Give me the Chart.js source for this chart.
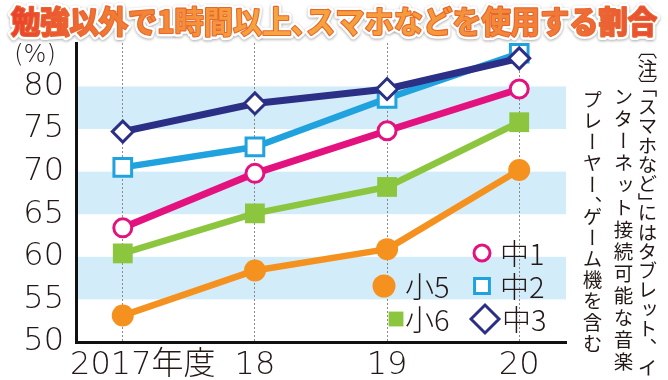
<!DOCTYPE html>
<html><head><meta charset="utf-8">
<script src="https://cdn.jsdelivr.net/npm/chart.js@4"></script>
<style>
html,body{margin:0;padding:0;background:#fff;}
#wrap{position:relative;width:668px;height:380px;overflow:hidden;background:#fff;}
#c{position:absolute;left:0;top:0;}
.note{position:absolute;writing-mode:vertical-rl;font-family:'Noto Sans CJK JP';font-size:19.5px;line-height:24px;color:#231815;white-space:nowrap;}
.br{font-feature-settings:"vpal" 1;}
</style></head><body>
<div id="wrap"><canvas id="c" width="668" height="380"></canvas>
<div class="note" style="left:635px;top:49px;letter-spacing:-0.2px;"><span class="br">〔</span>注<span class="br">〕「</span>スマホなど<span class="br">」</span>にはタブレット、イ</div>
<div class="note" style="left:611px;top:87px;letter-spacing:2.6px;">ンターネット接続可能な音楽</div>
<div class="note" style="left:580px;top:90px;letter-spacing:1.6px;">プレーヤー<span class="br">、</span>ゲーム機を含む</div>
</div>
<script>
const titleText = '勉強以外で1時間以上､スマホなどを使用する割合';
const unitLabel = '(%)';
const years = ['\u2002\u2002\u20052017年度', '18', '19', '20'];
const yTicks = [50, 55, 60, 65, 70, 75, 80];
const bandRanges = [[55, 60], [65, 70], [75, 80]];
const seriesNames = ['中3', '中2', '中1', '小6', '小5'];
const chu3 = [74.7, 78.0, 79.7, 83.3];
const chu2 = [70.5, 72.9, 78.6, 83.9];
const chu1 = [63.4, 69.8, 74.8, 79.7];
const sho6 = [60.4, 65.1, 68.2, 75.8];
const sho5 = [53.1, 58.4, 60.9, 70.2];

const pts = arr => arr.map((v, i) => ({x: i, y: v}));
const NAVY = '#2b2f86', CYAN = '#1fa2dd', MAG = '#e3127f', GREEN = '#8cc63f', ORANGE = '#f5911e';
const NUMFONT = "'DejaVu Sans', 'Noto Sans CJK JP', sans-serif";

const datasets = [
  {label: seriesNames[0], data: pts(chu3), borderColor: NAVY, borderWidth: 7, pointStyle: 'rectRot', pointRadius: 10.5, pointBorderWidth: 3, pointBorderColor: NAVY, pointBackgroundColor: '#fff'},
  {label: seriesNames[1], data: pts(chu2), borderColor: CYAN, borderWidth: 6.5, pointStyle: 'rect', pointRadius: 12.5, pointBorderWidth: 3, pointBorderColor: CYAN, pointBackgroundColor: '#fff'},
  {label: seriesNames[2], data: pts(chu1), borderColor: MAG, borderWidth: 7, pointStyle: 'circle', pointRadius: 9, pointBorderWidth: 3, pointBorderColor: MAG, pointBackgroundColor: '#fff'},
  {label: seriesNames[3], data: pts(sho6), borderColor: GREEN, borderWidth: 6.5, pointStyle: 'rect', pointRadius: 14, pointBorderWidth: 0, pointBorderColor: GREEN, pointBackgroundColor: GREEN},
  {label: seriesNames[4], data: pts(sho5), borderColor: ORANGE, borderWidth: 6.5, pointStyle: 'circle', pointRadius: 11, pointBorderWidth: 0, pointBorderColor: ORANGE, pointBackgroundColor: ORANGE}
];

const legendLayout = [
  {ds: 2, mx: 482, my: 253, r: 8, tx: 500},
  {ds: 4, mx: 384, my: 286, r: 11.5, tx: 405},
  {ds: 1, mx: 482, my: 286, r: 10.5, tx: 500},
  {ds: 3, mx: 396, my: 319, r: 10.5, tx: 405},
  {ds: 0, mx: 485, my: 319, r: 14, tx: 502}
];

const decor = {
  id: 'decor',
  beforeDraw(chart) {
    const {ctx, chartArea: a, scales: {y}} = chart;
    ctx.save();
    ctx.fillStyle = '#d3ecf9';
    bandRanges.forEach(([lo, hi]) => {
      const t = y.getPixelForValue(hi), b = y.getPixelForValue(lo);
      ctx.fillRect(a.left, t, a.right - a.left, b - t);
    });
    ctx.restore();
  },
  afterDraw(chart) {
    const {ctx} = chart;
    ctx.save();
    ctx.fillStyle = '#231815';
    ctx.font = "200 24px " + NUMFONT;
    ctx.textAlign = 'center';
    ctx.textBaseline = 'middle';
    ctx.fillText(unitLabel, 35, 56);
    ctx.restore();
    legendLayout.forEach(it => {
      const ds = chart.data.datasets[it.ds];
      ctx.save();
      ctx.fillStyle = ds.pointBackgroundColor;
      ctx.strokeStyle = ds.pointBorderColor;
      ctx.lineWidth = ds.pointBorderWidth;
      Chart.helpers.drawPoint(ctx, {pointStyle: ds.pointStyle, radius: it.r, rotation: 0, borderWidth: ds.pointBorderWidth}, it.mx, it.my);
      ctx.fillStyle = '#231815';
      ctx.font = "200 29px 'Noto Sans CJK JP', sans-serif";
      ctx.textAlign = 'left';
      ctx.textBaseline = 'middle';
      ctx.fillText(ds.label, it.tx, it.my + 1);
      ctx.restore();
    });
    ctx.save();
    ctx.font = "700 30px 'Noto Sans CJK JP', sans-serif";
    const w = ctx.measureText(titleText).width;
    const target = 646;
    ctx.translate(334, 21);
    ctx.scale(target / w, 1.02);
    ctx.textAlign = 'center';
    ctx.textBaseline = 'middle';
    ctx.lineJoin = 'round';
    ctx.shadowColor = 'rgba(0,0,0,0.35)';
    ctx.shadowBlur = 3;
    ctx.shadowOffsetY = 1;
    ctx.strokeStyle = '#fff';
    ctx.lineWidth = 7;
    ctx.strokeText(titleText, 0, 0);
    ctx.shadowColor = 'transparent';
    ctx.strokeStyle = '#e8662c';
    ctx.lineWidth = 2.2;
    ctx.strokeText(titleText, 0, 0);
    const g = ctx.createLinearGradient(-w / 2, 0, w / 2, 0);
    g.addColorStop(0, '#ea3f30');
    g.addColorStop(0.15, '#f07a34');
    g.addColorStop(0.4, '#f6a640');
    g.addColorStop(0.65, '#f49a3c');
    g.addColorStop(0.85, '#f07838');
    g.addColorStop(1, '#e84a32');
    ctx.fillStyle = g;
    ctx.fillText(titleText, 0, 0);
    ctx.restore();
  }
};

Chart.defaults.font.family = NUMFONT;

new Chart(document.getElementById('c'), {
  type: 'line',
  data: {datasets},
  options: {
    responsive: false,
    animation: false,
    devicePixelRatio: 1,
    layout: {padding: {left: 0, top: 43, right: 102, bottom: 0}},
    plugins: {legend: {display: false}, tooltip: {enabled: false}, title: {display: false}},
    elements: {line: {tension: 0, borderCapStyle: 'round', borderJoinStyle: 'round'}},
    scales: {
      x: {
        type: 'linear', min: -0.354, max: 3.354,
        afterBuildTicks: s => { s.ticks = years.map((_, i) => ({value: i})); },
        afterFit: s => { s.height = 38; s.paddingLeft = 0; s.paddingRight = 0; },
        grid: {display: true, color: '#8a8a8a', lineWidth: 1, drawTicks: false},
        border: {display: true, color: '#111', width: 3, dash: [2, 2]},
        ticks: {
          autoSkip: false, maxRotation: 0, padding: 4, color: '#231815',
          font: {size: 32, weight: 200},
          callback: (v, i) => years[i]
        }
      },
      y: {
        min: 50, max: 85.1,
        afterBuildTicks: s => { s.ticks = yTicks.map(v => ({value: v})); },
        afterFit: s => { s.width = 76; s.paddingTop = 0; s.paddingBottom = 0; },
        grid: {display: false, drawTicks: false},
        border: {display: true, color: '#111', width: 3},
        ticks: {padding: 12, color: '#231815', font: {size: 32, weight: 200}}
      }
    }
  },
  plugins: [decor]
});
</script>
</body></html>
